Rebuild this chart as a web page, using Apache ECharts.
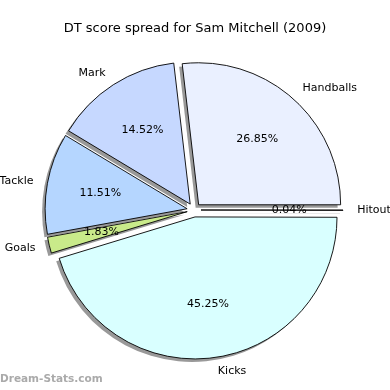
<!DOCTYPE html>
<html>
<head>
<meta charset="utf-8">
<script src="https://cdn.jsdelivr.net/npm/echarts@6/dist/echarts.min.js"></script>
<style>html,body{margin:0;padding:0;background:#fff;}#c{width:390px;height:390px;}</style>
</head>
<body>
<div id="c"></div>
<script>
var categories = ['Handballs', 'Mark', 'Tackle', 'Goals', 'Kicks', 'Hitout'];
var values = [26.85, 14.52, 11.51, 1.83, 45.25, 0.04];
var colors = ['#eaf0ff', '#c6d8ff', '#b5d6ff', '#c9ea8a', '#d9ffff', '#f4f4ff'];

var FONT = 'DejaVu Sans';
var CX = 194, CY = 210, R = 142;
function mk(mode) {
  return categories.map(function (n, i) {
    var st;
    if (mode === 'main') st = { color: colors[i] };
    else if (mode === 'shadow') st = { color: '#999999', borderWidth: 0 };
    else st = { color: 'rgba(0,0,0,0)', borderWidth: 0 };
    return { name: n, value: values[i], selected: true, itemStyle: st };
  });
}
var common = {
  type: 'pie', startAngle: 0, clockwise: false,
  selectedMode: 'multiple', selectedOffset: 7,
  avoidLabelOverlap: false, silent: true
};
var chart = echarts.init(document.getElementById('c'), null, { renderer: 'canvas' });
chart.setOption({
  animation: false,
  title: {
    text: 'DT score spread for Sam Mitchell (2009)',
    left: 'center', top: 17,
    textStyle: { fontFamily: FONT, fontSize: 13, fontWeight: 'normal', color: '#000' }
  },
  graphic: [{
    type: 'text', left: 0, top: 374,
    style: { text: 'Dream-Stats.com', font: 'bold 10.5px "DejaVu Sans"', fill: '#aaaaaa' }
  }],
  series: [
    Object.assign({}, common, {
      center: [CX - 3, CY + 3], radius: [0, R],
      label: { show: false }, labelLine: { show: false },
      data: mk('shadow')
    }),
    Object.assign({}, common, {
      center: [CX, CY], radius: [0, R],
      itemStyle: { borderColor: '#000', borderWidth: 0.9 },
      label: { show: true, position: 'outside', formatter: '{b}', fontFamily: FONT, fontSize: 11, color: '#000', distanceToLabelLine: 0 },
      labelLine: { show: false, length: R * 0.1, length2: 0 },
      data: mk('main')
    }),
    Object.assign({}, common, {
      center: [CX, CY], radius: [R * 0.2, R],
      label: { show: true, position: 'inside', formatter: '{d}%', fontFamily: FONT, fontSize: 11, color: '#000' },
      labelLine: { show: false },
      data: mk('overlay')
    })
  ]
});
</script>
</body>
</html>
